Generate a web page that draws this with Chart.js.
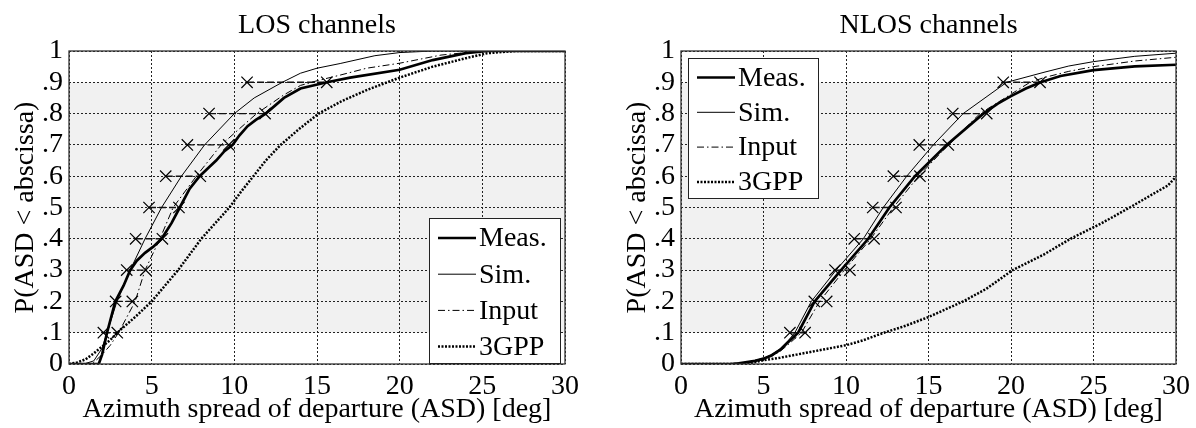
<!DOCTYPE html>
<html><head><meta charset="utf-8">
<script src="https://cdn.jsdelivr.net/npm/chart.js@4.4.1/dist/chart.umd.min.js"></script>
<style>
html,body{margin:0;padding:0;background:#fff;width:1196px;height:428px;overflow:hidden}
canvas{position:absolute;top:0}
#c1{left:0}
#c2{left:598px}
</style></head><body>
<canvas id="c1" width="598" height="428"></canvas>
<canvas id="c2" width="598" height="428"></canvas>
<script>
// ---------- data ----------
const xTickLabels = ['0','5','10','15','20','25','30'];
const yTickLabels = ['0','.1','.2','.3','.4','.5','.6','.7','.8','.9','1'];
const seriesNames = ['Meas.','Sim.','Input','3GPP'];
const decileLevels = [0.1,0.2,0.3,0.4,0.5,0.6,0.7,0.8,0.9];
const bandRange = [0.1,0.9];

// LOS channels
const losMeasX = [0,1.8,2.0,2.3,2.8,3.3,3.7,4.1,4.6,5.1,5.6,6.2,6.7,7.3,7.9,8.5,8.9,9.4,9.9,10.3,10.8,11.3,11.9,13.0,14.0,15.6,17.0,20.0,22.0,24.0,25.3,30];
const losMeasY = [0,0,0.03,0.1,0.2,0.25,0.3,0.33,0.355,0.375,0.4,0.45,0.5,0.56,0.6,0.63,0.65,0.68,0.7,0.73,0.76,0.78,0.8,0.85,0.88,0.9,0.915,0.94,0.971,0.993,1.0,1.0];
const losSimX = [0,0.9,1.5,2.0,2.3,2.9,3.7,4.6,5.6,6.8,8.2,10.0,11.2,12.9,14.0,15.0,16.4,18.5,20.0,22.0,30];
const losSimY = [0,0,0.01,0.05,0.1,0.2,0.3,0.4,0.5,0.6,0.7,0.8,0.85,0.9,0.929,0.945,0.96,0.985,0.995,1.0,1.0];
const losInputX = [0,1.4,2.0,2.5,3.0,3.5,4.0,4.6,5.5,6.3,7.7,9.2,11.35,13.0,14.0,15.0,16.4,18.0,20.0,22.5,25.0,30];
const losInputY = [0,0,0.03,0.06,0.1,0.15,0.2,0.3,0.4,0.5,0.6,0.7,0.8,0.86,0.89,0.905,0.923,0.945,0.961,0.987,1.0,1.0];
const los3gppX = [0,0.5,1.0,1.5,2.5,3.1,4.0,5.0,5.8,6.6,7.3,8.0,8.85,9.7,10.4,11.15,11.9,12.8,13.9,15.1,16.5,18.0,20.0,22.0,24.0,25.3,27.0,30];
const los3gppY = [0,0.005,0.015,0.034,0.077,0.109,0.15,0.2,0.25,0.3,0.35,0.4,0.45,0.5,0.55,0.6,0.65,0.7,0.75,0.8,0.84,0.875,0.915,0.95,0.977,0.993,1.0,1.0];
const losMarkLeft  = [2.08,2.82,3.49,4.03,4.84,5.85,7.16,8.47,10.77];
const losMarkRight = [2.92,3.83,4.64,5.65,6.65,7.94,9.66,11.86,15.59];

// NLOS channels
const nlosMeasX = [0,3,3.5,4,4.5,5,5.5,6,6.5,7.1,8.1,9.7,11.35,12.63,14.18,16.1,18.32,19.2,20.0,20.9,21.8,23.0,25.0,27.5,30];
const nlosMeasY = [0,0,0.002,0.006,0.01,0.017,0.028,0.045,0.07,0.1,0.2,0.3,0.4,0.5,0.6,0.7,0.8,0.832,0.856,0.88,0.9,0.92,0.939,0.951,0.956];
const nlosSimX = [0,3,4,5,5.5,6,6.5,6.9,7.9,9.4,11.05,12.26,13.68,15.29,17.1,19.74,22.0,23.5,25.0,27.5,30];
const nlosSimY = [0,0,0.006,0.018,0.03,0.048,0.075,0.1,0.2,0.3,0.4,0.5,0.6,0.7,0.8,0.9,0.932,0.952,0.966,0.983,0.993];
const nlosInputX = [0,3,4,5,5.5,6,6.5,7.3,8.4,9.9,11.5,12.87,14.4,16.2,18.12,21.15,22.0,23.5,25.0,27.5,30];
const nlosInputY = [0,0,0.005,0.015,0.025,0.04,0.062,0.1,0.2,0.3,0.4,0.5,0.6,0.7,0.8,0.9,0.915,0.935,0.95,0.968,0.98];
const nlos3gppX = [0,4,5,6,7,8,9,10,11,12.3,13.5,15,17.1,18.5,20.1,22,23.6,25.5,27.2,28.5,29.5,30];
const nlos3gppY = [0,0,0.012,0.02,0.03,0.04,0.05,0.06,0.075,0.1,0.12,0.15,0.2,0.24,0.3,0.35,0.4,0.45,0.5,0.54,0.57,0.598];
const nlosMarkLeft  = [6.6,8.08,9.33,10.5,11.62,12.87,14.44,16.47,19.53];
const nlosMarkRight = [7.52,8.83,10.24,11.7,13.03,14.48,16.2,18.53,21.76];

// ---------- helpers ----------
const FONT = "'Liberation Serif', 'DejaVu Serif', serif";
const FS = 28;
const pts = (xs, ys) => xs.map((x, i) => ({x, y: ys[i]}));
function markerPoints(levels, left, right) {
  const out = [];
  levels.forEach((p, i) => { out.push({x: left[i], y: p}, {x: right[i], y: p}, {x: right[i], y: null}); });
  return out;
}
const lineStyles = [
  {borderWidth: 2.7, borderDash: []},
  {borderWidth: 1, borderDash: []},
  {borderWidth: 1, borderDash: [7, 3, 1.5, 3]},
  {borderWidth: 2.5, borderDash: [2, 1.5]}
];

const decor = {
  id: 'decor',
  beforeDraw(chart) {
    const {ctx, chartArea: a, scales: {y}} = chart;
    ctx.save();
    ctx.fillStyle = '#fff';
    ctx.fillRect(0, 0, chart.width, chart.height);
    const t = y.getPixelForValue(bandRange[1]), b = y.getPixelForValue(bandRange[0]);
    ctx.fillStyle = '#f1f1f1';
    ctx.fillRect(a.left, t, a.right - a.left, b - t);
    ctx.restore();
  },
  afterDraw(chart, args, opts) {
    const {ctx, chartArea: a} = chart;
    ctx.save();
    ctx.strokeStyle = '#333';
    ctx.lineWidth = 1.3;
    ctx.strokeRect(a.left, a.top, a.right - a.left, a.bottom - a.top);
    // legend
    const bx = opts.anchor === 'br' ? a.right - opts.dx - opts.w : a.left + opts.dx;
    const by = opts.anchor === 'br' ? a.bottom - opts.dy - opts.h : a.top + opts.dy;
    ctx.fillStyle = '#fff';
    ctx.fillRect(bx, by, opts.w, opts.h);
    ctx.strokeStyle = '#222';
    ctx.lineWidth = 1;
    ctx.strokeRect(Math.round(bx) + 0.5, Math.round(by) + 0.5, opts.w, opts.h);
    ctx.font = FS + 'px ' + FONT;
    ctx.textBaseline = 'middle';
    ctx.textAlign = 'left';
    for (let i = 0; i < 4; i++) {
      const ds = chart.data.datasets[i];
      const cy = by + opts.first + i * opts.step;
      ctx.beginPath();
      ctx.setLineDash(ds.borderDash || []);
      ctx.lineWidth = ds.borderWidth;
      ctx.strokeStyle = '#000';
      ctx.moveTo(bx + 9, cy);
      ctx.lineTo(bx + 47, cy);
      ctx.stroke();
      ctx.setLineDash([]);
      ctx.fillStyle = '#000';
      ctx.fillText(ds.label, bx + 50, cy + 1);
    }
    ctx.restore();
  }
};

function makeChart(id, title, series, marks, pad, legendOpts) {
  const datasets = series.map((s, i) => ({
    label: seriesNames[i],
    data: s,
    borderColor: '#000',
    backgroundColor: '#000',
    borderWidth: lineStyles[i].borderWidth,
    borderDash: lineStyles[i].borderDash,
    pointRadius: 0,
    tension: 0,
    fill: false,
    order: 3 - i
  }));
  datasets.push({
    label: 'markers',
    data: marks,
    borderColor: '#111',
    backgroundColor: '#000',
    borderWidth: 1.4,
    borderDash: [7, 3],
    pointStyle: 'crossRot',
    pointRadius: 8,
    pointBorderWidth: 1.2,
    pointBorderColor: '#000',
    spanGaps: false,
    tension: 0,
    fill: false,
    order: 10
  });
  return new Chart(document.getElementById(id), {
    type: 'line',
    data: {datasets},
    options: {
      responsive: false,
      animation: false,
      devicePixelRatio: 1,
      events: [],
      layout: {padding: pad},
      plugins: {
        legend: {display: false},
        tooltip: {enabled: false},
        title: {display: true, text: title, fullSize: false, color: '#000',
          font: {family: FONT, size: FS, weight: 'normal'}, padding: {top: 9.2, bottom: 8.2}},
        decor: legendOpts
      },
      scales: {
        x: {
          type: 'linear', min: 0, max: 30,
          afterFit: s => { s.height = 64; },
          ticks: {stepSize: 5, autoSkip: false, maxRotation: 0, padding: 6, color: '#000',
            font: {family: FONT, size: FS}, callback: (v, i) => xTickLabels[i]},
          grid: {color: '#222', lineWidth: 1, drawTicks: false},
          border: {display: false, dash: [2, 2]},
          title: {display: true, text: 'Azimuth spread of departure (ASD) [deg]', color: '#000',
            font: {family: FONT, size: FS}, padding: {top: 0, bottom: 2}}
        },
        y: {
          type: 'linear', min: 0, max: 1,
          afterFit: s => { s.width = 69; },
          ticks: {stepSize: 0.1, autoSkip: false, padding: 6, color: '#000',
            font: {family: FONT, size: FS}, callback: (v, i) => yTickLabels[i]},
          grid: {color: '#222', lineWidth: 1, drawTicks: false},
          border: {display: false, dash: [2, 2]},
          title: {display: true, text: 'P(ASD < abscissa)', color: '#000',
            font: {family: FONT, size: FS}, padding: {top: 9, bottom: 0}}
        }
      }
    },
    plugins: [decor]
  });
}

makeChart('c1', 'LOS channels',
  [pts(losMeasX, losMeasY), pts(losSimX, losSimY), pts(losInputX, losInputY), pts(los3gppX, los3gppY)],
  markerPoints(decileLevels, losMarkLeft, losMarkRight),
  {left: 0, right: 33, top: 0, bottom: 0},
  {anchor: 'br', dx: 5, dy: 1, w: 131, h: 145, first: 20, step: 36.2});

makeChart('c2', 'NLOS channels',
  [pts(nlosMeasX, nlosMeasY), pts(nlosSimX, nlosSimY), pts(nlosInputX, nlosInputY), pts(nlos3gppX, nlos3gppY)],
  markerPoints(decileLevels, nlosMarkLeft, nlosMarkRight),
  {left: 14, right: 20, top: 0, bottom: 0},
  {anchor: 'tl', dx: 7, dy: 7, w: 130, h: 140, first: 19.5, step: 34.8});
</script>
</body></html>
